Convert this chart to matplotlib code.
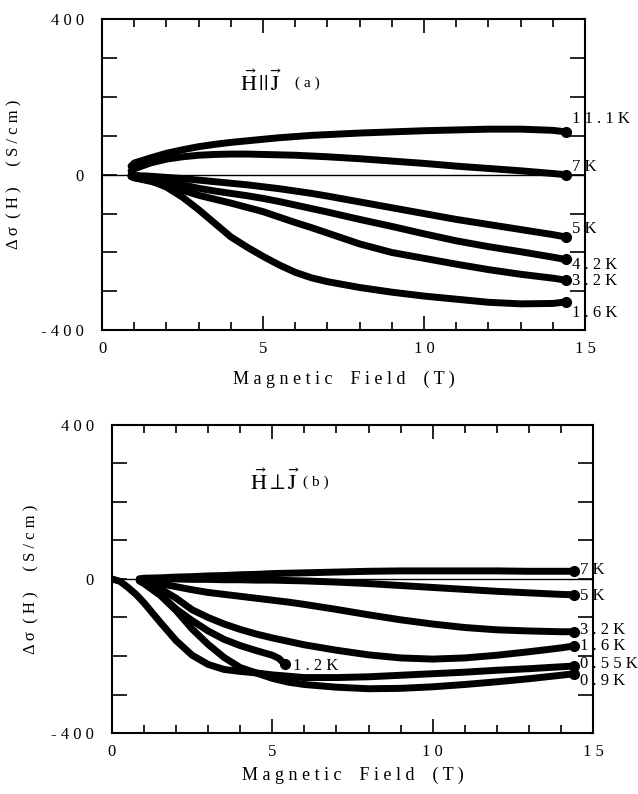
import matplotlib.pyplot as plt
from matplotlib.ticker import MultipleLocator

plt.rcParams['font.family'] = ['Liberation Serif', 'DejaVu Serif']
plt.rcParams['mathtext.fontset'] = 'stix'

# (a) H parallel J : field in T, delta sigma in S/cm
field_a = [0.9, 1, 1.5, 2, 2.5, 3, 3.5, 4, 4.5, 5, 5.5, 6, 6.5, 7, 8, 9, 10, 11, 12, 13, 14, 14.4]
a_11_1K = [22, 30, 43, 55, 64, 72, 78, 83, 87, 91, 95, 98, 101, 103, 107, 110, 113, 115, 117, 117, 114, 110]
a_7K = [10, 15, 30, 40, 46, 50, 52, 53, 53, 52, 51, 50, 48, 46, 41, 35, 29, 22, 16, 10, 3, 0]
a_5K = [0, -2, -4, -7, -10, -14, -18, -22, -26, -31, -36, -42, -48, -55, -70, -85, -100, -115, -128, -141, -154, -160]
a_4_2K = [-2, -5, -11, -18, -26, -35, -42, -48, -54, -61, -69, -78, -87, -96, -115, -133, -152, -170, -185, -198, -212, -218]
a_3_2K = [-4, -8, -17, -28, -40, -53, -63, -73, -84, -95, -109, -123, -136, -150, -178, -200, -215, -230, -244, -256, -266, -271]
a_1_6K = [-5, -8, -15, -32, -58, -90, -125, -160, -186, -210, -232, -251, -265, -275, -290, -302, -312, -320, -328, -332, -331, -327]
curves_a = [a_11_1K, a_7K, a_5K, a_4_2K, a_3_2K, a_1_6K]
labels_a = ['1 1 . 1 K', '7 K', '5 K', '4 . 2 K', '3 . 2 K', '1 . 6 K']
label_y_a = [144, 21, -139, -231, -274, -355]

# (b) H perpendicular J
field_b = [0.85, 1, 1.5, 2, 2.5, 3, 3.5, 4, 4.5, 5, 5.5, 6, 7, 8, 9, 10, 11, 12, 13, 14, 14.4]
b_7K = [0, 2, 3, 5, 6, 8, 9, 11, 12, 14, 15, 16, 18, 20, 21, 21, 21, 21, 20, 20, 20]
b_5K = [0, 0, 0, 0, -1, -1, -2, -2, -3, -3, -4, -5, -8, -12, -17, -22, -27, -32, -36, -40, -41]
b_3_2K = [-2, -5, -12, -20, -28, -35, -40, -45, -50, -55, -60, -66, -79, -93, -106, -117, -126, -132, -135, -137, -137]
b_1_6K = [-3, -8, -25, -50, -80, -100, -117, -131, -143, -153, -162, -171, -185, -197, -205, -208, -205, -198, -189, -179, -174]
b_0_9K = [-5, -12, -42, -82, -130, -170, -204, -230, -244, -258, -268, -274, -281, -285, -284, -280, -274, -267, -259, -250, -246]

field_b_0_55K = [0, 0.25, 0.5, 0.75, 1, 1.5, 2, 2.5, 3, 3.5, 4, 4.5, 5, 6, 7, 8, 9, 10, 11, 12, 13, 14, 14.4]
b_0_55K = [0, -6, -22, -40, -62, -112, -160, -198, -222, -235, -240, -244, -249, -256, -256, -254, -250, -246, -242, -237, -233, -228, -226]

field_b_1_2K = [0.9, 1, 1.5, 2, 2.5, 3, 3.5, 4, 4.5, 5, 5.2, 5.4]
b_1_2K = [-5, -10, -40, -78, -108, -135, -157, -173, -186, -198, -206, -222]

curves_b = [(field_b, b_7K), (field_b, b_5K), (field_b, b_3_2K), (field_b, b_1_6K),
            (field_b_0_55K, b_0_55K), (field_b, b_0_9K), (field_b_1_2K, b_1_2K)]
labels_b = ['7 K', '5 K', '3 . 2 K', '1 . 6 K', '0 . 5 5 K', '0 . 9 K']
label_y_b = [23, -45, -132, -174, -222, -265]


def style_axes(ax, ylab_x):
    ax.set_xlim(0, 15)
    ax.set_ylim(-400, 400)
    ax.set_xticks([0, 5, 10, 15], ['0', '5', '1 0', '1 5'])
    ax.xaxis.set_minor_locator(MultipleLocator(1))
    ax.set_yticks(range(-400, 401, 100), ['- 4 0 0', '', '', '', '0', '', '', '', '4 0 0'])
    ax.tick_params(which='both', direction='in', top=True, right=True, width=1.2, labelsize=12)
    ax.tick_params(axis='x', which='major', length=10, pad=8)
    ax.tick_params(axis='x', which='minor', length=6)
    ax.tick_params(axis='y', length=11, pad=13)
    for s in ax.spines.values():
        s.set_linewidth(1.5)
    ax.axhline(0, color='k', lw=1, zorder=1)
    ax.set_xlabel('M a g n e t i c    F i e l d    ( T )', fontsize=13)
    ax.set_ylabel('Δ σ  ( H )     ( S / c m )', fontsize=12)
    ax.yaxis.set_label_coords(ylab_x, 0.5)


def draw(ax, x, y):
    ax.plot(x, y, color='k', lw=5, solid_capstyle='round', solid_joinstyle='round', zorder=2)
    ax.plot(x[-1], y[-1], 'o', color='k', ms=7, zorder=3)


fig = plt.figure(figsize=(6.38, 7.94), dpi=100)

ax1 = fig.add_axes([0.160, 0.584, 0.757, 0.392])
style_axes(ax1, -0.164)
ax1.xaxis.set_label_coords(0.5, -0.13)
for y in curves_a:
    draw(ax1, field_a, y)
for lab, ly in zip(labels_a, label_y_a):
    ax1.text(14.58, ly, lab, fontsize=12, ha='left', va='center', zorder=4)
ax1.text(4.29, 236, r'$\vec{\mathrm{H}}\,||\,\vec{\mathrm{J}}$', fontsize=16, ha='left', va='center')
ax1.text(6.0, 236, '( a )', fontsize=11, ha='left', va='center')

ax2 = fig.add_axes([0.1755, 0.0768, 0.754, 0.388])
style_axes(ax2, -0.150)
ax2.xaxis.set_label_coords(0.5, -0.11)
for x, y in curves_b:
    draw(ax2, x, y)
for lab, ly in zip(labels_b, label_y_b):
    ax2.text(14.6, ly, lab, fontsize=12, ha='left', va='center', zorder=4)
ax2.text(5.65, -226, '1 . 2 K', fontsize=12, ha='left', va='center')
ax2.text(4.3, 252, r'$\vec{\mathrm{H}}\perp\vec{\mathrm{J}}$', fontsize=16, ha='left', va='center')
ax2.text(5.96, 252, '( b )', fontsize=11, ha='left', va='center')

fig.savefig('out.png', dpi=100)
